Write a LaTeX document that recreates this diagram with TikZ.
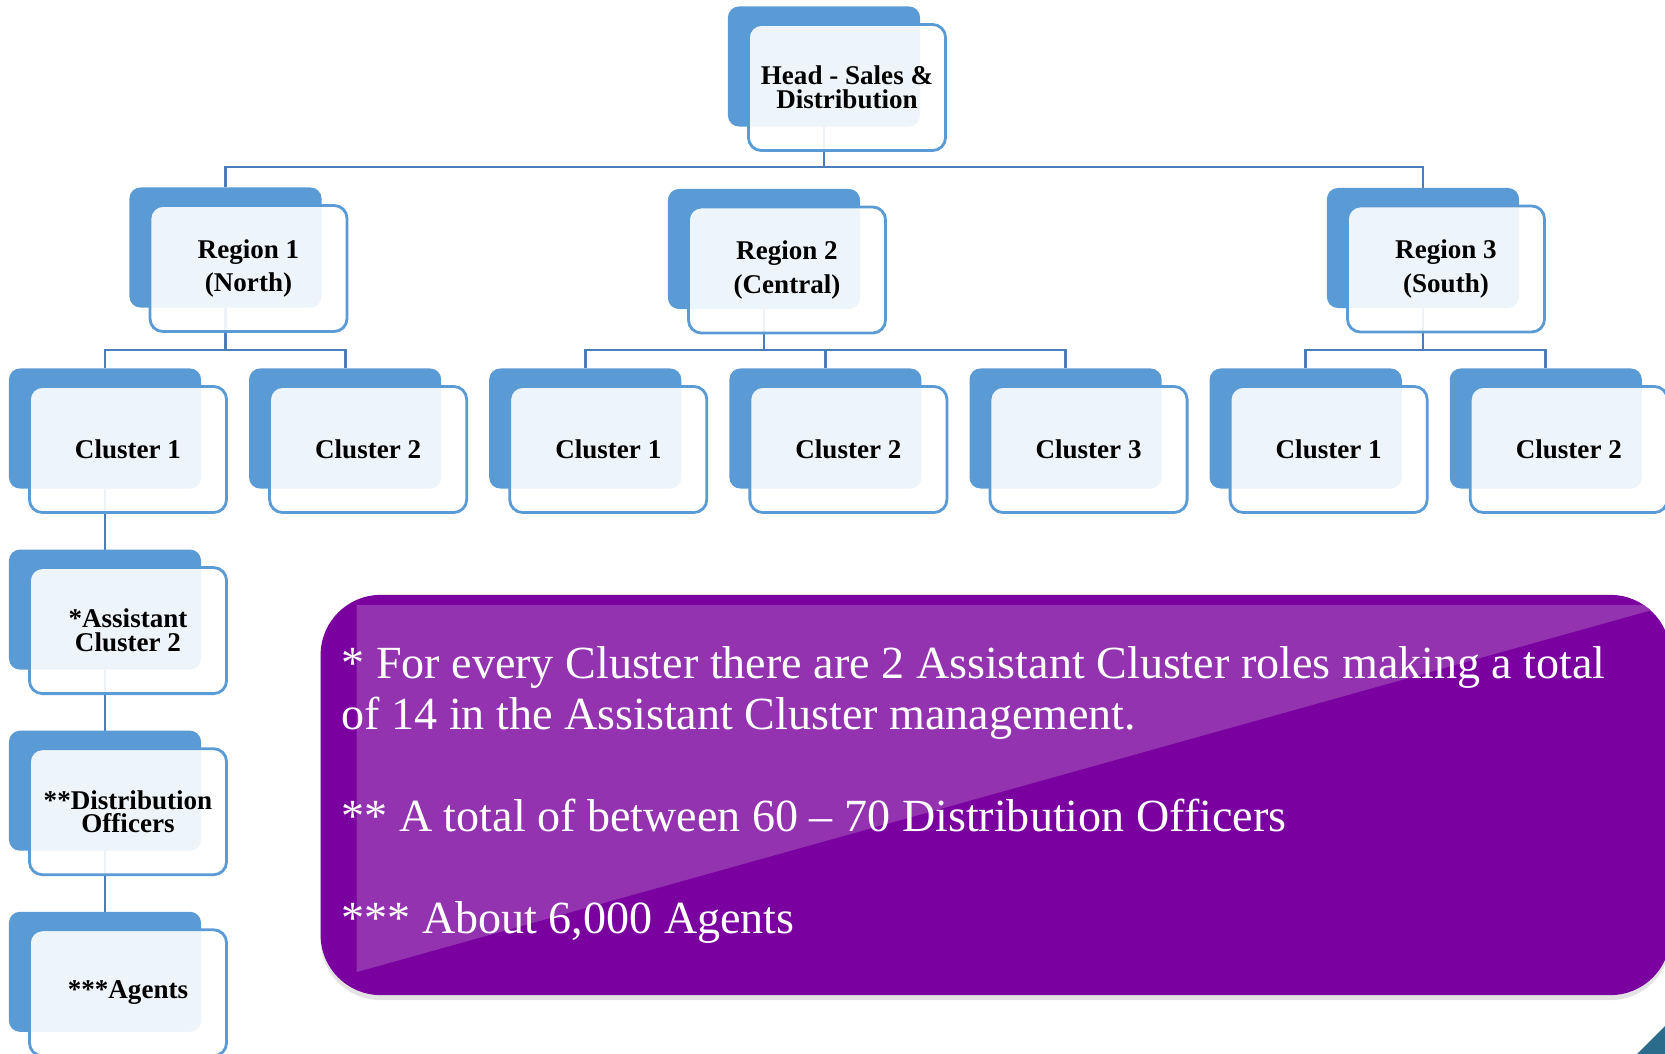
\documentclass[tikz,border=0pt]{standalone}
\usepackage{fontspec}
\setmainfont{Liberation Serif}
\usetikzlibrary{positioning, shadows, backgrounds}

\definecolor{boxblue}{RGB}{91,155,213}
\definecolor{linkblue}{RGB}{74,126,187}
\definecolor{notepurple}{RGB}{122,0,160}
\definecolor{notelight}{RGB}{147,51,176}
\definecolor{cornerteal}{RGB}{43,108,140}

\tikzset{
  backbox/.style={rectangle, rounded corners=0.11cm, fill=boxblue,
    minimum width=1.92cm, minimum height=1.2cm, inner sep=0pt, outer sep=0pt},
  frontbox/.style={rectangle, rounded corners=0.13cm, draw=boxblue, line width=0.8pt,
    fill=white, fill opacity=0.9, text opacity=1, text=black,
    minimum width=1.97cm, minimum height=1.26cm, inner sep=1pt, align=center,
    font=\bfseries\fontsize{7.7}{6.8}\selectfont},
  roomy/.style={font=\bfseries\fontsize{7.7}{9.4}\selectfont},
  link/.style={draw=linkblue, line width=0.85pt},
  note/.style={rectangle, rounded corners=0.6cm, fill=notepurple,
    minimum width=13.49cm, minimum height=4cm, text width=13.07cm,
    inner xsep=0.21cm, align=flush left, text=white,
    font=\fontsize{13.1}{14.5}\selectfont,
    drop shadow={shadow xshift=0cm, shadow yshift=-0.05cm, opacity=0.22},
    path picture={\fill[notelight, sharp corners]
      ([shift={(36,-10)}]path picture bounding box.north west)
      -- ([shift={(0,-10)}]path picture bounding box.north east)
      -- ([shift={(36,23)}]path picture bounding box.south west) -- cycle;}}
}

% back box (named #2) with the text box on top of it (named #2t)
\newcommand{\orgunit}[4][]{%
  \node[backbox, #3] (#2) {};
  \node[frontbox, #1] (#2t) at ([shift={(23,-21)}]#2) {#4};
}

\begin{document}
\begin{tikzpicture}[x=0.01cm, y=0.01cm, node distance=0.48cm]
\useasboundingbox (0,0) rectangle (1665,-1054);

\orgunit{head}{at={(824,-66.5)}}{Head - Sales \&\\Distribution}

\orgunit[roomy]{r1}{at={(225.5,-247.5)}}{Region 1\\(North)}
\orgunit[roomy]{r2}{at={(764,-249)}}{Region 2\\(Central)}
\orgunit[roomy]{r3}{at={(1423,-248)}}{Region 3\\(South)}

\orgunit{c11}{at={(105,-428.5)}}{Cluster 1}
\orgunit{c12}{right=of c11}{Cluster 2}
\orgunit{c21}{right=of c12}{Cluster 1}
\orgunit{c22}{right=of c21}{Cluster 2}
\orgunit{c23}{right=of c22}{Cluster 3}
\orgunit{c31}{right=of c23}{Cluster 1}
\orgunit{c32}{right=of c31}{Cluster 2}

\orgunit{asst}{below=0.61cm of c11}{*Assistant\\Cluster 2}
\orgunit{dofc}{below=0.61cm of asst}{**Distribution\\Officers}
\orgunit{agnt}{below=0.61cm of dofc}{***Agents}

\begin{scope}[on background layer]
  \draw[link] (head.center) -- ++(0,-100.5) -| (r1.north);
  \draw[link] (head.center) ++(0,-100.5) -| (r3.north);
  \draw[link] (r1.center) -- ++(0,-102.5) -| (c11.north);
  \draw[link] (r1.center) ++(0,-102.5) -| (c12.north);
  \draw[link] (r2.center) -- ++(0,-101) -| (c21.north);
  \draw[link] (r2.center) ++(0,-101) -| (c22.north);
  \draw[link] (r2.center) ++(0,-101) -| (c23.north);
  \draw[link] (r3.center) -- ++(0,-102) -| (c31.north);
  \draw[link] (r3.center) ++(0,-102) -| (c32.north);
  \draw[link] (c11) -- (asst);
  \draw[link] (asst) -- (dofc);
  \draw[link] (dofc) -- (agnt);
\end{scope}

\node[note] (facts) at (995.5,-795) {* For every Cluster there are 2 Assistant Cluster roles making a total\\
of 14 in the Assistant Cluster management.\\[14.5pt]
** A total of between 60 -- 70 Distribution Officers\\[14.5pt]
*** About 6,000 Agents};

\fill[cornerteal] (1637,-1054) -- (1665,-1026) -- (1665,-1054) -- cycle;
\end{tikzpicture}
\end{document}
